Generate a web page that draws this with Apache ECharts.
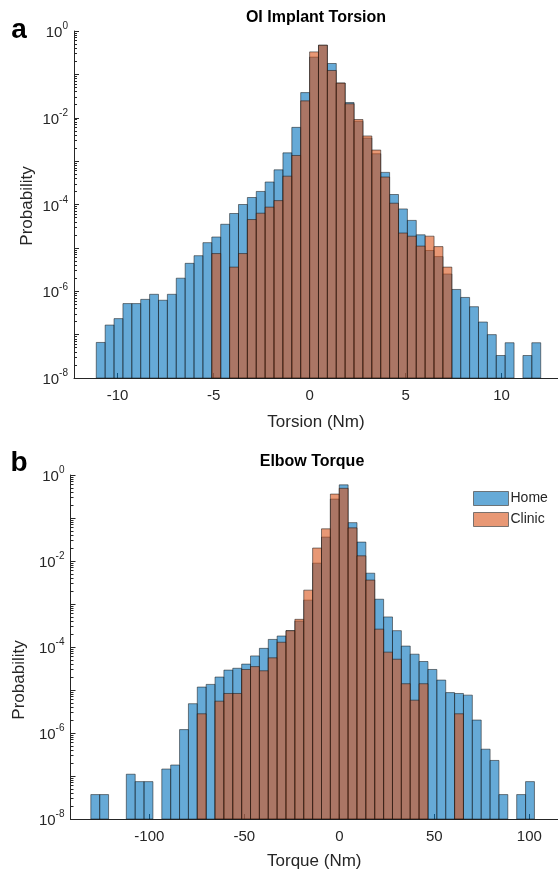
<!DOCTYPE html>
<html>
<head>
<meta charset="utf-8">
<script src="https://cdn.jsdelivr.net/npm/echarts@6/dist/echarts.min.js"></script>
<style>
html, body { margin: 0; padding: 0; background: #fff; }
#main { width: 558px; height: 871px; }
</style>
</head>
<body>
<div id="main"></div>
<script>
// a: OI implant torsion (Nm), 50 bins
var torsionStart = -11.11;
var torsionBin = 0.463;
var torsionHome = [
    6.6e-8, 1.66e-7, 2.34e-7, 5.2e-7, 5.2e-7, 6.5e-7, 8.5e-7, 6.2e-7, 8.5e-7, 2.0e-6,
    4.4e-6, 6.6e-6, 1.32e-5, 1.78e-5, 3.5e-5, 6.2e-5, 1.0e-4, 1.45e-4, 2.0e-4, 3.3e-4,
    6.3e-4, 1.55e-3, 6.0e-3, 0.038, 0.25, 0.47, 0.178, 0.063, 0.0224, 0.0083,
    0.0034, 0.00148, 5.5e-4, 1.7e-4, 7.9e-5, 4.3e-5, 2.0e-5, 8.7e-6, 6.3e-6, 2.5e-6,
    1.1e-6, 7.2e-7, 4.4e-7, 1.95e-7, 1.0e-7, 3.3e-8, 6.5e-8, null, 3.3e-8, 6.5e-8
];
var torsionClinic = [
    null, null, null, null, null, null, null, null, null, null,
    null, null, null, 7.4e-6, null, 3.6e-6, 7.4e-6, 4.5e-5, 6.3e-5, 8.7e-5,
    1.23e-4, 4.5e-4, 1.35e-3, 0.0245, 0.33, 0.47, 0.123, 0.063, 0.021, 0.0091,
    0.0038, 0.0018, 4.3e-4, 1.07e-4, 2.2e-5, 1.86e-5, 1.1e-5, 1.86e-5, 1.07e-5, 3.6e-6,
    null, null, null, null, null, null, null, null, null, null
];
var torsionTicks = [-10, -5, 0, 5, 10];

// b: elbow torque (Nm), 50 bins
var torqueStart = -130.8;
var torqueBin = 4.67;
var torqueHome = [
    3.7e-8, 3.7e-8, null, null, 1.1e-7, 7.4e-8, 7.4e-8, null, 1.45e-7, 1.8e-7,
    1.2e-6, 4.8e-6, 1.17e-5, 1.35e-5, 2.0e-5, 2.9e-5, 3.2e-5, 4.0e-5, 6.2e-5, 9.3e-5,
    1.5e-4, 1.8e-4, 2.4e-4, 4.0e-4, 1.23e-3, 8.9e-3, 0.036, 0.275, 0.59, 0.078,
    0.0275, 0.0052, 1.29e-3, 5.0e-4, 2.4e-4, 1.05e-4, 6.8e-5, 4.6e-5, 3.0e-5, 1.7e-5,
    8.7e-6, 8.3e-6, 7.6e-6, 2.0e-6, 4.2e-7, 2.3e-7, 3.7e-8, null, 3.7e-8, 7.4e-8
];
var torqueClinic = [
    null, null, null, null, null, null, null, null, null, null,
    null, null, 2.8e-6, null, 5.5e-6, 8.3e-6, 8.3e-6, 3.0e-5, 3.5e-5, 2.8e-5,
    5.6e-5, 1.29e-4, 2.4e-4, 4.4e-4, 2.1e-3, 0.02, 0.056, 0.36, 0.49, 0.059,
    0.0132, 0.0036, 2.6e-4, 7.6e-5, 5.2e-5, 1.4e-5, 5.8e-6, 1.4e-5, null, null,
    null, 2.8e-6, null, null, null, null, null, null, null, null
];
var torqueTicks = [-100, -50, 0, 50, 100];

var probMin = 1e-8;
var probMax = 1;

var FONT = '"Liberation Sans", Arial, Helvetica, sans-serif';
var INK = '#262626';
var HOME_COLOR = 'rgba(0,114,189,0.6)';
var CLINIC_COLOR = 'rgba(217,83,25,0.6)';

// minor tick positions 2..9 x 10^k for the log axis
var minorProb = [];
for (var k = -8; k < 0; k++) {
    for (var m = 2; m <= 9; m++) minorProb.push(m * Math.pow(10, k));
}

function toBins(start, width, vals) {
    var out = [];
    for (var i = 0; i < vals.length; i++) {
        if (vals[i] == null) continue;
        out.push([start + i * width, start + (i + 1) * width, vals[i]]);
    }
    return out;
}

function renderBin(params, api) {
    var tl = api.coord([api.value(0), api.value(2)]);
    var br = api.coord([api.value(1), probMin]);
    return {
        type: 'rect',
        shape: { x: tl[0], y: tl[1], width: br[0] - tl[0], height: br[1] - tl[1] },
        style: api.style()
    };
}

function histSeries(name, idx, data, color) {
    return {
        name: name,
        type: 'custom',
        xAxisIndex: idx,
        yAxisIndex: idx * 2,
        renderItem: renderBin,
        encode: { x: [0, 1], y: 2 },
        itemStyle: { color: color, borderColor: 'rgba(20,20,20,0.75)', borderWidth: 0.7 },
        data: data,
        silent: true
    };
}

function yAxis(idx) {
    return {
        type: 'log',
        logBase: 10,
        gridIndex: idx,
        position: 'left',
        min: probMin,
        max: probMax,
        splitNumber: 8,
        axisLine: { show: true, onZero: false, lineStyle: { color: INK, width: 1 } },
        axisTick: { show: true, inside: true, length: 5, interval: 0, lineStyle: { color: INK } },
        splitLine: { show: false },
        axisLabel: {
            interval: 0,
            margin: 6,
            formatter: function (v) {
                var e = Math.round(Math.log(v) / Math.LN10);
                if (e % 2 !== 0) return '';
                return '{b|10}{e|' + e + '}';
            },
            rich: {
                b: { fontSize: 15, fontFamily: FONT, color: INK, lineHeight: 19, verticalAlign: 'bottom' },
                e: { fontSize: 10, fontFamily: FONT, color: INK, verticalAlign: 'top' }
            }
        }
    };
}

// overlay axis that only carries the minor ticks
function yMinorAxis(idx) {
    return {
        type: 'log',
        logBase: 10,
        gridIndex: idx,
        position: 'left',
        offset: 0,
        min: probMin,
        max: probMax,
        axisLine: { show: false, onZero: false },
        axisTick: { show: true, inside: true, length: 3, customValues: minorProb, lineStyle: { color: INK } },
        axisLabel: { show: false },
        splitLine: { show: false }
    };
}

function xAxis(idx, min, max, ticks, name, gap) {
    return {
        type: 'value',
        gridIndex: idx,
        min: min,
        max: max,
        axisLine: { onZero: false, lineStyle: { color: INK, width: 1 } },
        axisTick: { inside: true, length: 5, customValues: ticks, lineStyle: { color: INK } },
        splitLine: { show: false },
        axisLabel: { customValues: ticks, margin: 10, fontSize: 15, fontFamily: FONT, color: INK },
        name: name,
        nameLocation: 'middle',
        nameGap: gap,
        nameTextStyle: { fontSize: 17, fontFamily: FONT, color: INK }
    };
}

var chart = echarts.init(document.getElementById('main'));

var option = {
    animation: false,
    backgroundColor: '#fff',
    grid: [
        { left: 74, top: 31, width: 484, height: 347, containLabel: false },
        { left: 70.5, top: 475, width: 487.5, height: 347, containLabel: false }
    ],
    xAxis: [
        xAxis(0, -12.27, 12.94, torsionTicks, 'Torsion (Nm)', 36),
        xAxis(1, -141.5, 115.1, torqueTicks, 'Torque (Nm)', 34)
    ],
    yAxis: [yAxis(0), yMinorAxis(0), yAxis(1), yMinorAxis(1)],
    legend: {
        data: ['Home', 'Clinic'],
        orient: 'vertical',
        left: 468,
        top: 486,
        icon: 'rect',
        itemWidth: 35,
        itemHeight: 14,
        itemGap: 6,
        textStyle: { fontSize: 14, fontFamily: FONT, color: INK, padding: [0, 0, 0, -3] },
        itemStyle: { borderColor: 'rgba(90,90,90,0.8)', borderWidth: 1 }
    },
    graphic: [
        { type: 'text', x: 316, y: 18, style: { text: 'OI Implant Torsion', font: 'bold 16px ' + FONT, fill: '#000', textAlign: 'center', textVerticalAlign: 'middle' } },
        { type: 'text', x: 312, y: 462, style: { text: 'Elbow Torque', font: 'bold 16px ' + FONT, fill: '#000', textAlign: 'center', textVerticalAlign: 'middle' } },
        { type: 'text', x: 19, y: 30, style: { text: 'a', font: 'bold 28px ' + FONT, fill: '#000', textAlign: 'center', textVerticalAlign: 'middle' } },
        { type: 'text', x: 19, y: 463, style: { text: 'b', font: 'bold 28px ' + FONT, fill: '#000', textAlign: 'center', textVerticalAlign: 'middle' } },
        { type: 'text', x: 27, y: 206, rotation: Math.PI / 2, style: { text: 'Probability', font: '17px ' + FONT, fill: INK, textAlign: 'center', textVerticalAlign: 'middle' } },
        { type: 'text', x: 19, y: 680, rotation: Math.PI / 2, style: { text: 'Probability', font: '17px ' + FONT, fill: INK, textAlign: 'center', textVerticalAlign: 'middle' } }
    ],
    series: [
        histSeries('Home', 0, toBins(torsionStart, torsionBin, torsionHome), HOME_COLOR),
        histSeries('Clinic', 0, toBins(torsionStart, torsionBin, torsionClinic), CLINIC_COLOR),
        histSeries('Home', 1, toBins(torqueStart, torqueBin, torqueHome), HOME_COLOR),
        histSeries('Clinic', 1, toBins(torqueStart, torqueBin, torqueClinic), CLINIC_COLOR)
    ]
};

chart.setOption(option);
</script>
</body>
</html>
